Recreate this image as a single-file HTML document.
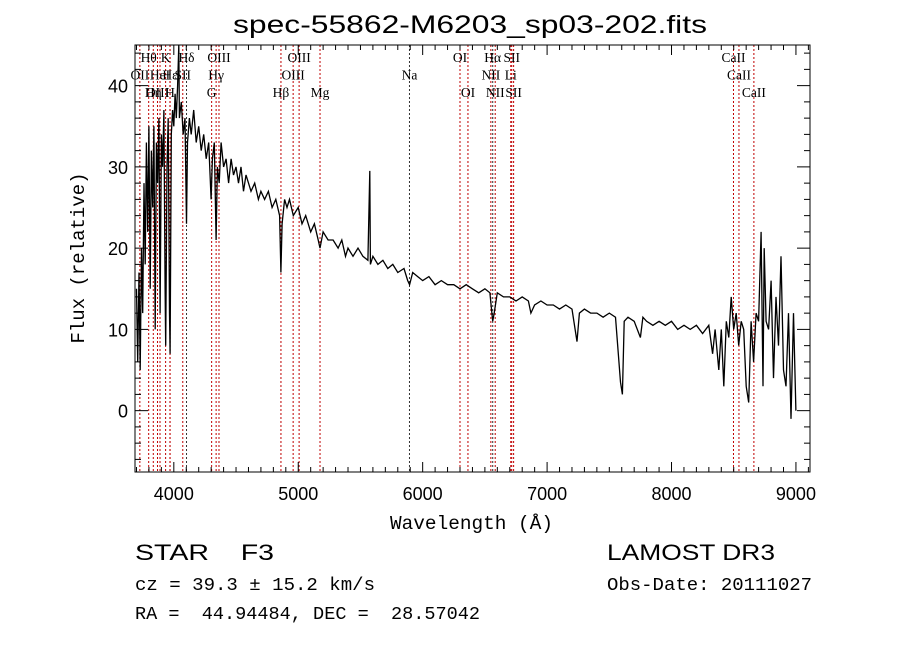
<!DOCTYPE html>
<html><head><meta charset="utf-8">
<style>
html,body{margin:0;padding:0;background:#fff;}
svg{display:block;}
text{font-family:"Liberation Serif",serif;fill:#000;white-space:pre;}
.mono{font-family:"Liberation Mono",monospace;}
.sans{font-family:"Liberation Sans",sans-serif;}
</style></head>
<body>
<svg id="chart" width="900" height="649" viewBox="0 0 900 649" xmlns="http://www.w3.org/2000/svg" xml:space="preserve">
<rect width="900" height="649" fill="#fff"/>
<text class="sans" x="233" y="33" font-size="25" textLength="474" lengthAdjust="spacingAndGlyphs">spec-55862-M6203_sp03-202.fits</text>
<g id="lines"></g>
<g id="labels"></g>
<path id="spec" fill="none" stroke="#000" stroke-width="1.3"/>
<g id="axes"></g>
<text class="mono" x="390" y="529" font-size="19" textLength="163" lengthAdjust="spacingAndGlyphs">Wavelength (Å)</text>
<text class="mono" transform="translate(84,258) rotate(-90)" font-size="19" text-anchor="middle">Flux (relative)</text>
<text class="sans" x="135" y="560" font-size="22" textLength="139" lengthAdjust="spacingAndGlyphs">STAR    F3</text>
<text class="mono" x="135" y="590" font-size="18" textLength="240" lengthAdjust="spacingAndGlyphs">cz = 39.3 ± 15.2 km/s</text>
<text class="mono" x="135" y="619" font-size="18" textLength="345" lengthAdjust="spacingAndGlyphs">RA =  44.94484, DEC =  28.57042</text>
<text class="sans" x="607" y="560" font-size="22" textLength="168" lengthAdjust="spacingAndGlyphs">LAMOST DR3</text>
<text class="mono" x="607" y="590" font-size="18" textLength="205" lengthAdjust="spacingAndGlyphs">Obs-Date: 20111027</text>
</svg>
<script>
const waves=[3700,3710,3720,3730,3740,3750,3760,3770,3780,3790,3800,3810,3820,3830,3840,3850,3860,3870,3880,3890,3900,3910,3920,3930,3935,3945,3955,3965,3970,3980,3990,4000,4010,4020,4030,4040,4045,4060,4075,4090,4102,4110,4125,4140,4160,4180,4200,4220,4240,4260,4280,4300,4310,4325,4340,4350,4365,4380,4400,4420,4440,4460,4480,4500,4520,4540,4560,4580,4600,4620,4650,4680,4700,4730,4760,4790,4820,4850,4861,4870,4890,4910,4930,4960,5000,5030,5060,5100,5130,5160,5175,5200,5240,5280,5320,5350,5380,5400,5440,5480,5520,5560,5575,5580,5600,5640,5680,5720,5760,5800,5850,5880,5895,5920,5960,6000,6050,6100,6150,6200,6250,6300,6350,6400,6450,6500,6540,6563,6575,6600,6650,6700,6750,6800,6850,6870,6900,6950,7000,7050,7100,7150,7200,7240,7260,7300,7350,7400,7450,7500,7550,7590,7605,7620,7650,7700,7750,7770,7800,7850,7900,7950,8000,8050,8100,8150,8200,8250,8300,8330,8350,8380,8400,8420,8440,8460,8480,8500,8520,8540,8560,8580,8600,8620,8640,8660,8680,8700,8720,8735,8745,8760,8780,8800,8820,8840,8860,8880,8900,8920,8940,8960,8980,9000];
const flux=[15,6,17,5,20,12,28,18,33,22,35,15,32,25,35,10,33,28,36,12,34,30,37,15,8,30,36,12,7,34,37,35,39,36,40,45,36,38,34,36,23,33,36,34,37,33,35,32,34,31,33,26,31,33,21,30,28,33,30,31,28,31,29,30,28,30,27,29,28,27,28,26,27,26,27,25,26,24,17,23,26,25,26,24,25,23,24,22,23,21,20,22,21,21,20,21,19,20,19,20,19,18.5,29.5,18,19,18,18.5,17.5,18,17,17.5,16,15.5,17,16.5,16,16.5,15.5,16,15.5,15.5,15,15.5,15,14.5,15,14.5,11,12,14.5,14,14,13.5,14,13.5,12,13,13.5,13,13,12.5,13,12.5,8.5,12,12.5,12,12,11.5,12,11.5,3.5,2,11,11.5,11,9,11.5,11,10.5,11,10.5,11,10,10.5,10,10.5,9.5,10.5,7,10,5,10,3,11,9,14,10,12,8,11,10,3,1,11,6,12,11,22,3,20,11,10,16,4,14,8,19,5,3,12,-1,12,0];
const lineWaves=[3727,3798,3835,3869,3889,3934,3969,3970,4072,4102,4304,4340,4363,4861,4959,5007,5175,5894,6300,6364,6548,6563,6583,6708,6716,6731,8498,8542,8662];
const lineNames=["OII","Hθ","Hη","OIII","HeI","K","H","Hε","SII","Hδ","G","Hγ","OIII","Hβ","OIII","OIII","Mg","Na","OI","OI","NII","Hα","NII","Li","SII","SII","CaII","CaII","CaII"];
const lineRows=[2,1,3,3,2,1,3,2,2,1,3,2,1,3,2,1,3,2,1,3,2,1,3,2,1,3,1,2,3];
const xTicks=[4000,5000,6000,7000,8000,9000];
const yTicks=[0,10,20,30,40];

const X0=135,X1=810,Y0=45,Y1=472;
const WMIN=3688,WMAX=9113,FMIN=-7.55,FMAX=45.0;
const xs=w=>X0+(w-WMIN)/(WMAX-WMIN)*(X1-X0);
const ys=f=>Y1-(f-FMIN)/(FMAX-FMIN)*(Y1-Y0);
const NS="http://www.w3.org/2000/svg";
function mk(tag,attrs,parent){const e=document.createElementNS(NS,tag);for(const k in attrs)e.setAttribute(k,attrs[k]);parent.appendChild(e);return e;}

let d="";
waves.forEach((w,i)=>{const f=Math.max(FMIN,Math.min(FMAX,flux[i]));d+=(i?"L":"M")+xs(w).toFixed(1)+" "+ys(f).toFixed(1);});
document.getElementById("spec").setAttribute("d",d);

const lg=document.getElementById("lines"),lb=document.getElementById("labels");
lineWaves.forEach((w,i)=>{
  const l=mk("line",{x1:xs(w),x2:xs(w),y1:Y0,y2:Y1,stroke:(w===4102||w===6563||w===5894)?"#333":"#c00000","stroke-width":1,"stroke-dasharray":"2,2"},lg);
  
  
  const t=mk("text",{x:xs(w),y:62+(lineRows[i]-1)*17.5,"font-size":13.5,"text-anchor":"middle"},lb);
  t.textContent=lineNames[i];
  
  
});

const ax=document.getElementById("axes");
mk("rect",{x:X0,y:Y0,width:X1-X0,height:Y1-Y0,fill:"none",stroke:"#000","stroke-width":1},ax);
for(let w=3700;w<=9100;w+=100){
  const maj=w%1000===0,len=maj?10:5;
  mk("line",{x1:xs(w),x2:xs(w),y1:Y1,y2:Y1-len,stroke:"#000"},ax);
  mk("line",{x1:xs(w),x2:xs(w),y1:Y0,y2:Y0+len,stroke:"#000"},ax);
}
for(let f=-6;f<=44;f+=2){
  const maj=f%10===0,len=maj?13:6;
  mk("line",{x1:X0,x2:X0+len,y1:ys(f),y2:ys(f),stroke:"#000"},ax);
  mk("line",{x1:X1,x2:X1-len,y1:ys(f),y2:ys(f),stroke:"#000"},ax);
}
xTicks.forEach(w=>{const t=mk("text",{x:xs(w),y:Y1+28,"font-size":18,"text-anchor":"middle",class:"sans"},ax);t.textContent=w;
  
  });
yTicks.forEach(f=>{const t=mk("text",{x:X0-7,y:ys(f)+7,"font-size":18,"text-anchor":"end",class:"sans"},ax);t.textContent=f;
  
  });
</script>
</body></html>
